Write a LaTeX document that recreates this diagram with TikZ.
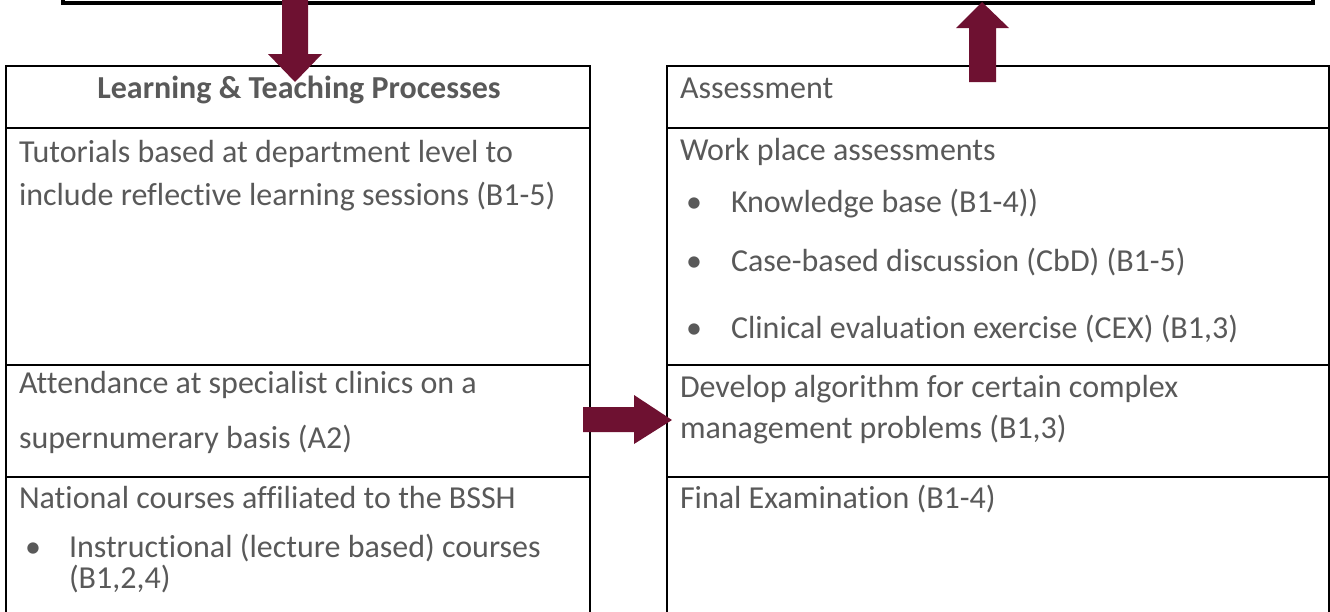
\documentclass[tikz,border=0pt]{standalone}
\usepackage{fontspec}
\setmainfont[Ligatures=NoCommon]{Carlito}
\definecolor{txtgrey}{HTML}{595959}
\definecolor{maroonfill}{HTML}{6E1131}
\begin{document}
\begin{tikzpicture}[x=1pt,y=-1pt,
  every node/.style={inner sep=0pt, outer sep=0pt, text=txtgrey, font=\fontsize{32}{38}\selectfont},
  celltext/.style={anchor=base west},
  bul/.style={anchor=base west},
  gridline/.style={line width=2pt, draw=black},
  framebox/.style={line width=3.5pt, draw=black},
  blockarrow/.style={fill=maroonfill, draw=none}]
\useasboundingbox (0,0) rectangle (1330,611);
% top frame (partially visible)
\draw[framebox] (63,-20) -- (63,3) -- (1313,3) -- (1313,-20);
% left table
\draw[gridline] (6,630) -- (6,66) -- (590,66) -- (590,630);
\foreach \yy in {128,365,477} \draw[gridline] (6,\yy) -- (590,\yy);
% right table
\draw[gridline] (667,630) -- (667,66) -- (1329,66) -- (1329,630);
\foreach \yy in {128,365,477} \draw[gridline] (667,\yy) -- (1329,\yy);
% left texts
\node[anchor=base, font=\fontsize{32}{38}\selectfont\bfseries] (lt) at (299,98) {Learning \& Teaching Processes};
\node[celltext] (l1a) at (19,162) {Tutorials based at department level to};
\node[celltext] (l1b) at (19,205) {include reflective learning sessions (B1-5)};
\node[celltext] (l2a) at (19,393) {Attendance at specialist clinics on a};
\node[celltext] (l2b) at (19,448) {supernumerary basis (A2)};
\node[celltext] (l3a) at (19,508) {National courses affiliated to the BSSH};
\node[bul] (l3b) at (25,557) {•};
\node[celltext] (l3c) at (69,557) {Instructional (lecture based) courses};
\node[celltext] (l3d) at (69,588) {(B1,2,4)};
% right texts
\node[celltext] (rt) at (680,98) {Assessment};
\node[celltext] (r1a) at (680,160) {Work place assessments};
\node[bul] (rb1) at (686,212) {•};
\node[celltext] (r1b) at (731,212) {Knowledge base (B1-4))};
\node[bul] (rb2) at (686,271) {•};
\node[celltext] (r1c) at (731,271) {Case-based discussion (CbD) (B1-5)};
\node[bul] (rb3) at (686,338) {•};
\node[celltext] (r1d) at (731,338) {Clinical evaluation exercise (CEX) (B1,3)};
\node[celltext] (r2a) at (680,397) {Develop algorithm for certain complex};
\node[celltext] (r2b) at (680,438) {management problems (B1,3)};
\node[celltext] (r3a) at (680,508) {Final Examination (B1-4)};
% block arrows
\fill[blockarrow] (282,-5) -- (308,-5) -- (308,54) -- (322,54) -- (295,82) -- (268,54) -- (282,54) -- cycle;
\fill[blockarrow] (969,82) -- (996,82) -- (996,28) -- (1009,28) -- (982,2) -- (956,28) -- (969,28) -- cycle;
\fill[blockarrow] (583,407) -- (634,407) -- (634,395) -- (672,420) -- (634,444) -- (634,432) -- (583,432) -- cycle;
\end{tikzpicture}
\end{document}
